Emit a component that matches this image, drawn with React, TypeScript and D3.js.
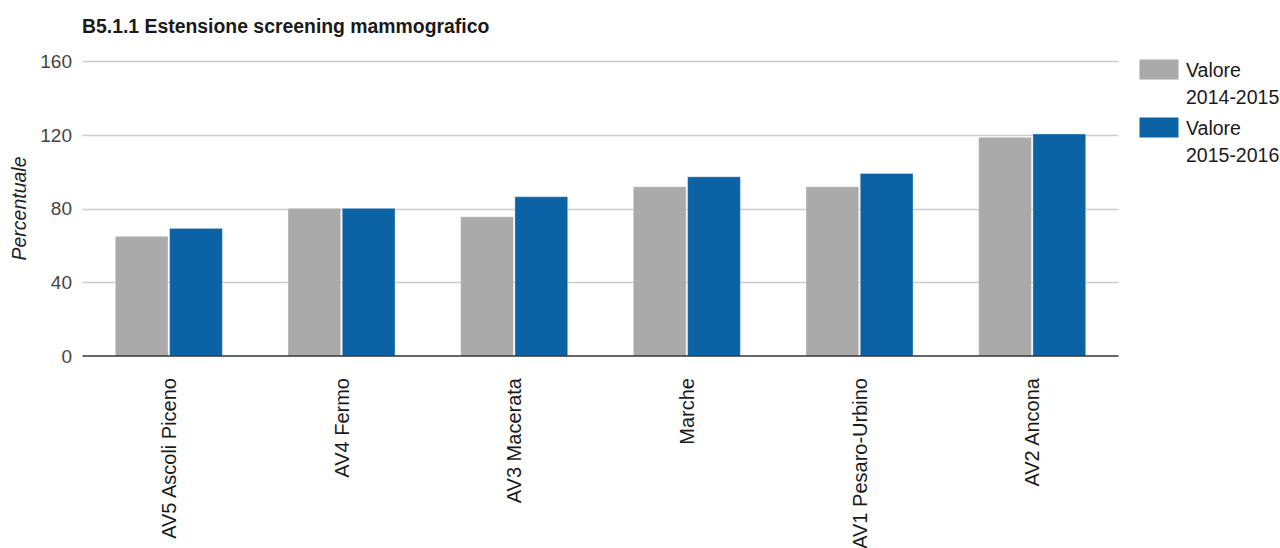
import React from "react";
import * as d3 from "d3";

const categories = ["AV5 Ascoli Piceno", "AV4 Fermo", "AV3 Macerata", "Marche", "AV1 Pesaro-Urbino", "AV2 Ancona"];
const values2014 = [64.9, 80.1, 75.5, 91.8, 91.8, 118.6];
const values2015 = [69.2, 80.1, 86.4, 97.2, 99.0, 120.4];
const seriesNames = [["Valore", "2014-2015"], ["Valore", "2015-2016"]];
const seriesColors = ["#aaaaaa", "#0b62a4"];
const yTicks = [0, 40, 80, 120, 160];
const title = "B5.1.1 Estensione screening mammografico";
const yLabel = "Percentuale";

const W = 1280;
const H = 548;
const left = 82.5;
const right = 1118.5;
const top = 61;
const bottom = 356;
const FONT = "Arial, 'Liberation Sans', sans-serif";

export default function App() {
  const x = d3.scaleBand<string>().domain(categories).range([left, right]).paddingInner(0.38).paddingOuter(0.19);
  const y = d3.scaleLinear().domain([0, 160]).range([bottom, top]);
  const series = [values2014, values2015];
  const bw = x.bandwidth();
  const gap = 1.5;
  const barW = (bw - gap) / 2;

  return (
    <svg width={W} height={H} style={{ position: "absolute", left: 0, top: 0, background: "#fff" }} fontFamily={FONT}>
      <text x={82} y={33} fontSize={19.4} fontWeight="bold" fill="#1a1a1a">{title}</text>
      {yTicks.map((t) => (
        <g key={t}>
          {t !== 0 && (
            <line x1={left} x2={right} y1={Math.round(y(t)) + 0.5} y2={Math.round(y(t)) + 0.5} stroke="#cccccc" strokeWidth={1.5} />
          )}
          <text x={72} y={y(t)} dy="0.36em" textAnchor="end" fontSize={19} fill="#444">{t}</text>
        </g>
      ))}
      <text transform={`translate(19,${(top + bottom) / 2}) rotate(-90)`} textAnchor="middle" dy="0.36em" fontSize={19.5} fontStyle="italic" fill="#222">{yLabel}</text>
      {categories.map((c, i) => (
        <g key={c}>
          {series.map((vals, s) => (
            <rect
              key={s}
              x={(x(c) as number) + s * (barW + gap)}
              y={y(vals[i])}
              width={barW}
              height={y(0) - y(vals[i])}
              fill={seriesColors[s]}
              stroke="#ffffff"
              strokeOpacity={0.35}
              strokeWidth={1}
            />
          ))}
          <text
            transform={`translate(${(x(c) as number) + bw / 2},378) rotate(-90)`}
            textAnchor="end"
            dy="0.36em"
            fontSize={20}
            fill="#1a1a1a"
          >{c}</text>
        </g>
      ))}
      <line x1={left} x2={right} y1={356} y2={356} stroke="#333" strokeWidth={1.5} />
      {seriesNames.map((nm, s) => (
        <g key={s} transform={`translate(0,${s * 58})`}>
          <rect x={1139.5} y={59.5} width={39} height={20} fill={seriesColors[s]} />
          <text x={1186} y={77} fontSize={19.5} fill="#1a1a1a">{nm[0]}</text>
          <text x={1186} y={104} fontSize={19.5} fill="#1a1a1a">{nm[1]}</text>
        </g>
      ))}
    </svg>
  );
}
